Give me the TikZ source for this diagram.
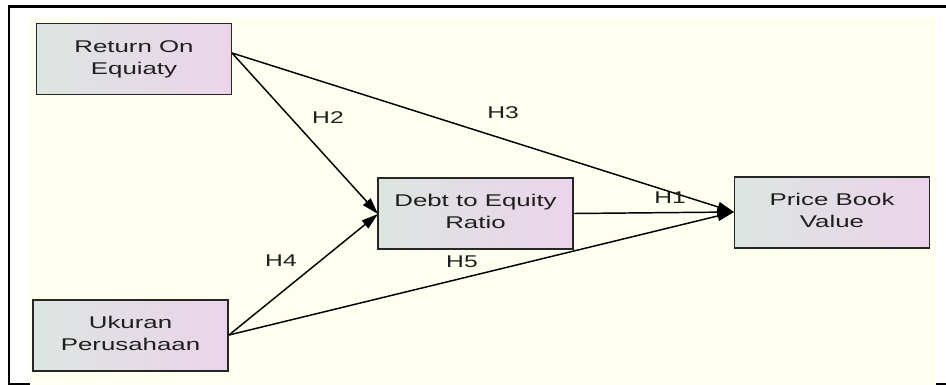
\documentclass[tikz,border=0pt]{standalone}
\usepackage{fontspec}
\usepackage{graphicx}
\setmainfont{Liberation Sans}
\usetikzlibrary{arrows.meta}
\definecolor{bgyel}{HTML}{FFFFF0}
\definecolor{boxleft}{HTML}{DDE5E1}
\definecolor{boxright}{HTML}{EBD4EA}
\newcommand\sxtext[1]{\scalebox{1.52}[1]{\begin{tabular}{@{}c@{}}#1\end{tabular}}}
\newdimen\px \px=0.75pt
\tikzset{
  varbox/.style={draw=black!85, line width=1.1pt, left color=boxleft, right color=boxright,
    minimum width=195\px, minimum height=71\px, inner sep=0pt, align=center,
    font=\fontsize{12.75}{16.5}\selectfont, text=black!88},
  path/.style={draw=black, line width=1.1pt, -{Triangle[length=12.5pt,width=7.5pt]}},
  hlab/.style={font=\fontsize{12.75}{14}\selectfont, text=black!88, inner sep=0pt},
}
\begin{document}
\begin{tikzpicture}[x=0.75pt,y=-0.75pt]
\useasboundingbox (0,0) rectangle (946,385);
\fill[white] (0,0) rectangle (946,385);
\fill[bgyel] (30,17) rectangle (936,385);
\draw[line width=1.6pt] (946,6.5) -- (9,6.5) -- (9,384) -- (30,384);
\draw[line width=1.6pt] (936,384) -- (946,384);
\node[varbox] (roe) at (134,59) {\sxtext{Return On\\Equiaty}};
\node[varbox] (uk) at (130.5,335.5) {\sxtext{Ukuran\\Perusahaan}};
\node[varbox] (der) at (475.5,213.5) {\sxtext{Debt to Equity\\Ratio}};
\node[varbox] (pbv) at (832,212.5) {\sxtext{Price Book\\Value}};
\coordinate (roeo) at (232,53);
\coordinate (uko) at (229,335);
\coordinate (deri) at (378,214);
\coordinate (pbvi) at (734,212);
\draw[path] (roeo) -- (deri);
\draw[path] (roeo) -- (pbvi);
\draw[path] (uko) -- (deri);
\draw[path] (uko) -- (pbvi);
\draw[path] (der.east) -- (pbvi);
\node[hlab] (h2) at (328,118) {\scalebox{1.45}[1]{H2}};
\node[hlab] (h3) at (503,113) {\scalebox{1.45}[1]{H3}};
\node[hlab] (h1) at (670,198) {\scalebox{1.45}[1]{H1}};
\node[hlab] (h4) at (281,261) {\scalebox{1.45}[1]{H4}};
\node[hlab] (h5) at (462,262) {\scalebox{1.45}[1]{H5}};
\end{tikzpicture}
\end{document}
